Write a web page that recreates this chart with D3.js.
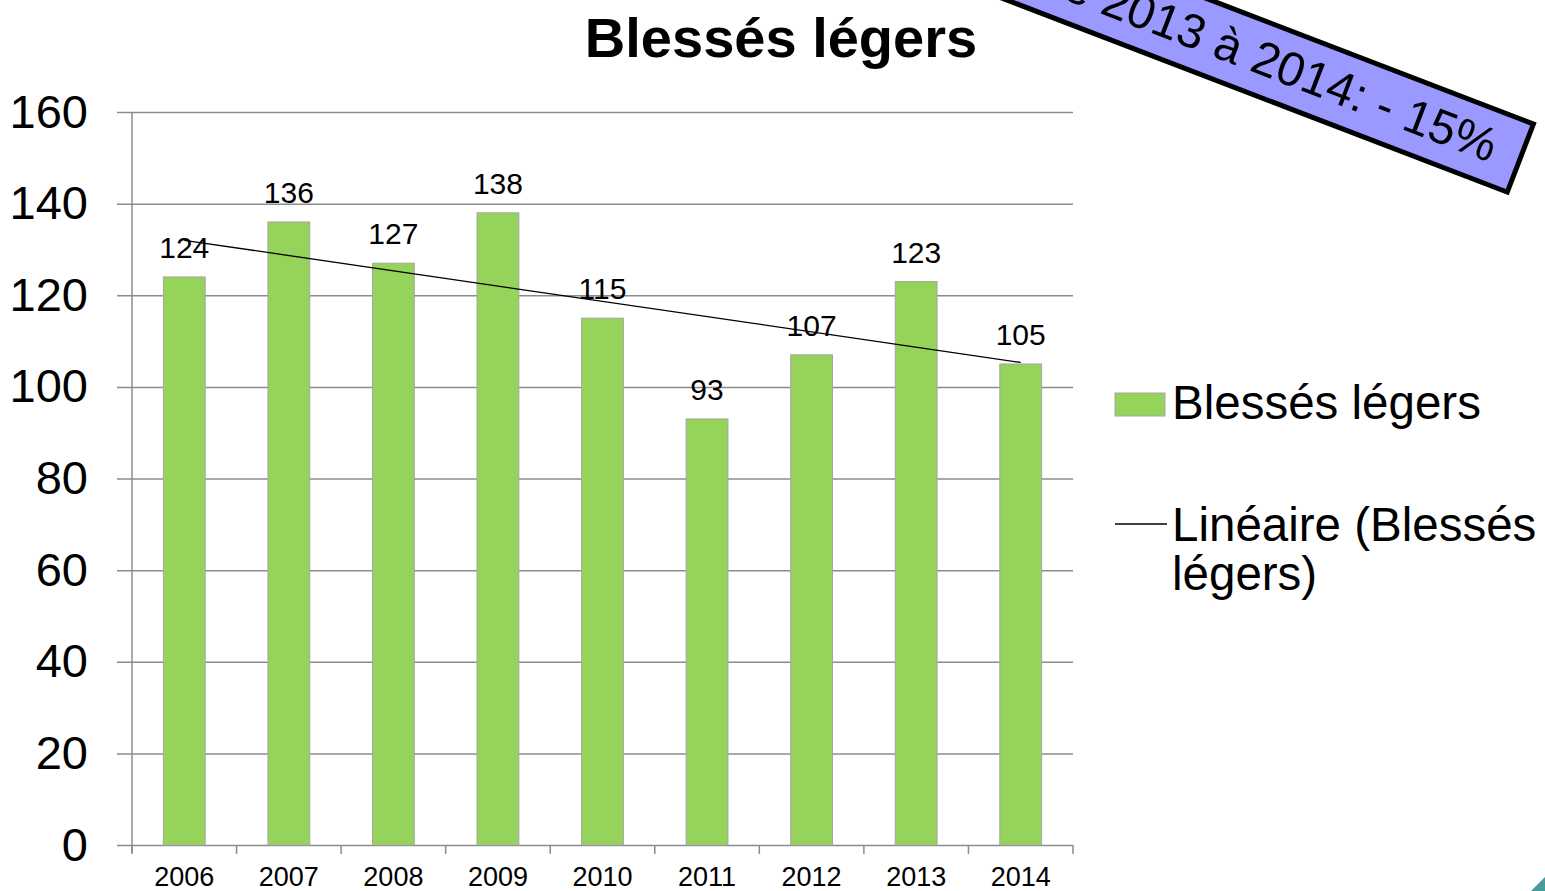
<!DOCTYPE html>
<html lang="fr">
<head>
<meta charset="UTF-8">
<title>Blessés légers</title>
<script src="https://cdn.jsdelivr.net/npm/d3@7"></script>
<style>
  body { margin: 0; background: #fff; }
  text { font-family: "Liberation Sans", Arial, sans-serif; fill: #000; }
</style>
</head>
<body>
<script>
const years = ['2006', '2007', '2008', '2009', '2010', '2011', '2012', '2013', '2014'];
const values = [124, 136, 127, 138, 115, 93, 107, 123, 105];
const yTicks = [0, 20, 40, 60, 80, 100, 120, 140, 160];
const seriesName = 'Blessés légers';
const trendName = ['Linéaire (Blessés', 'légers)'];
const bannerText = 'Evolution de 2013 à 2014: - 15%';

const width = 1545, height = 891;
const plotLeft = 132, plotRight = 1073, plotTop = 112, plotBottom = 845;

const svg = d3.select('body').append('svg').attr('width', width).attr('height', height);

const x = d3.scaleBand().domain(years).range([plotLeft, plotRight]).paddingInner(0.6).paddingOuter(0.3);
const y = d3.scaleLinear().domain([0, 160]).range([plotBottom, plotTop]);

// gridlines + y axis
svg.append('g')
    .attr('transform', `translate(${plotLeft},0)`)
    .call(d3.axisLeft(y).tickValues(yTicks).tickSize(-(plotRight - plotLeft)).tickPadding(44).tickSizeOuter(0))
    .call(g => g.select('.domain').remove())
    .call(g => g.selectAll('.tick line').attr('x1', -15).attr('stroke', '#8c8c8c').attr('stroke-width', 1.5))
    .call(g => g.selectAll('.tick text').attr('font-size', 47).attr('fill', '#000')
        .attr('font-family', '"Liberation Sans", Arial, sans-serif'));
svg.append('line')
    .attr('x1', plotLeft).attr('x2', plotLeft).attr('y1', plotTop).attr('y2', plotBottom + 8)
    .attr('stroke', '#8c8c8c').attr('stroke-width', 1.5);

// category axis: ticks at the boundaries
const bounds = years.map(d => x(d) - x.step() * 0.3).concat([plotRight]);
svg.append('g').selectAll('line').data(bounds).join('line')
    .attr('x1', d => d).attr('x2', d => d).attr('y1', plotBottom).attr('y2', plotBottom + 9)
    .attr('stroke', '#8c8c8c').attr('stroke-width', 1.5);
svg.append('g').selectAll('text').data(years).join('text')
    .attr('x', d => x(d) + x.bandwidth() / 2).attr('y', 886)
    .attr('text-anchor', 'middle').attr('font-size', 27).text(d => d);

// bars
svg.append('g').selectAll('rect').data(values).join('rect')
    .attr('x', (d, i) => x(years[i])).attr('y', d => y(d))
    .attr('width', x.bandwidth()).attr('height', d => y(0) - y(d))
    .attr('fill', '#95d35a').attr('stroke', '#a6a6a6').attr('stroke-width', 1);

// data labels
svg.append('g').selectAll('text').data(values).join('text')
    .attr('x', (d, i) => x(years[i]) + x.bandwidth() / 2).attr('y', d => y(d) - 19)
    .attr('text-anchor', 'middle').attr('font-size', 30).text(d => d);

// linear trend (least squares)
const n = values.length;
const mx = d3.mean(values, (d, i) => i), my = d3.mean(values);
const slope = d3.sum(values, (d, i) => (i - mx) * (d - my)) / d3.sum(values, (d, i) => (i - mx) * (i - mx));
const trend = [0, n - 1].map(i => [i, my + slope * (i - mx)]);
svg.append('path')
    .attr('d', d3.line().x(d => x(years[d[0]]) + x.bandwidth() / 2).y(d => y(d[1]))(trend))
    .attr('fill', 'none').attr('stroke', '#000').attr('stroke-width', 1.3);

// title
svg.append('text').attr('x', 781).attr('y', 57).attr('text-anchor', 'middle')
    .attr('font-size', 56).attr('font-weight', 'bold').text(seriesName);

// legend
const lg = svg.append('g');
lg.append('rect').attr('x', 1115).attr('y', 393).attr('width', 50).attr('height', 23)
    .attr('fill', '#95d35a').attr('stroke', '#a6a6a6').attr('stroke-width', 1);
lg.append('text').attr('x', 1172).attr('y', 419).attr('font-size', 47.5).text(seriesName);
lg.append('line').attr('x1', 1115).attr('x2', 1167).attr('y1', 524).attr('y2', 524)
    .attr('stroke', '#000').attr('stroke-width', 1.3);
lg.append('text').attr('x', 1172).attr('y', 541).attr('font-size', 47.5).text(trendName[0]);
lg.append('text').attr('x', 1172).attr('y', 590).attr('font-size', 47.5).text(trendName[1]);

// rotated banner
const bn = svg.append('g').attr('transform', 'translate(1509,196) rotate(21)');
bn.append('rect').attr('x', -900).attr('y', -76).attr('width', 897).attr('height', 73)
    .attr('fill', '#9999ff').attr('stroke', '#000').attr('stroke-width', 5);
bn.append('text').attr('x', -30).attr('y', -24).attr('text-anchor', 'end')
    .attr('font-size', 48).text(bannerText);

// small corner decoration
svg.append('path').attr('d', 'M1545,877 L1545,891 L1531,891 Z').attr('fill', '#4a9a9a');
</script>
</body>
</html>
